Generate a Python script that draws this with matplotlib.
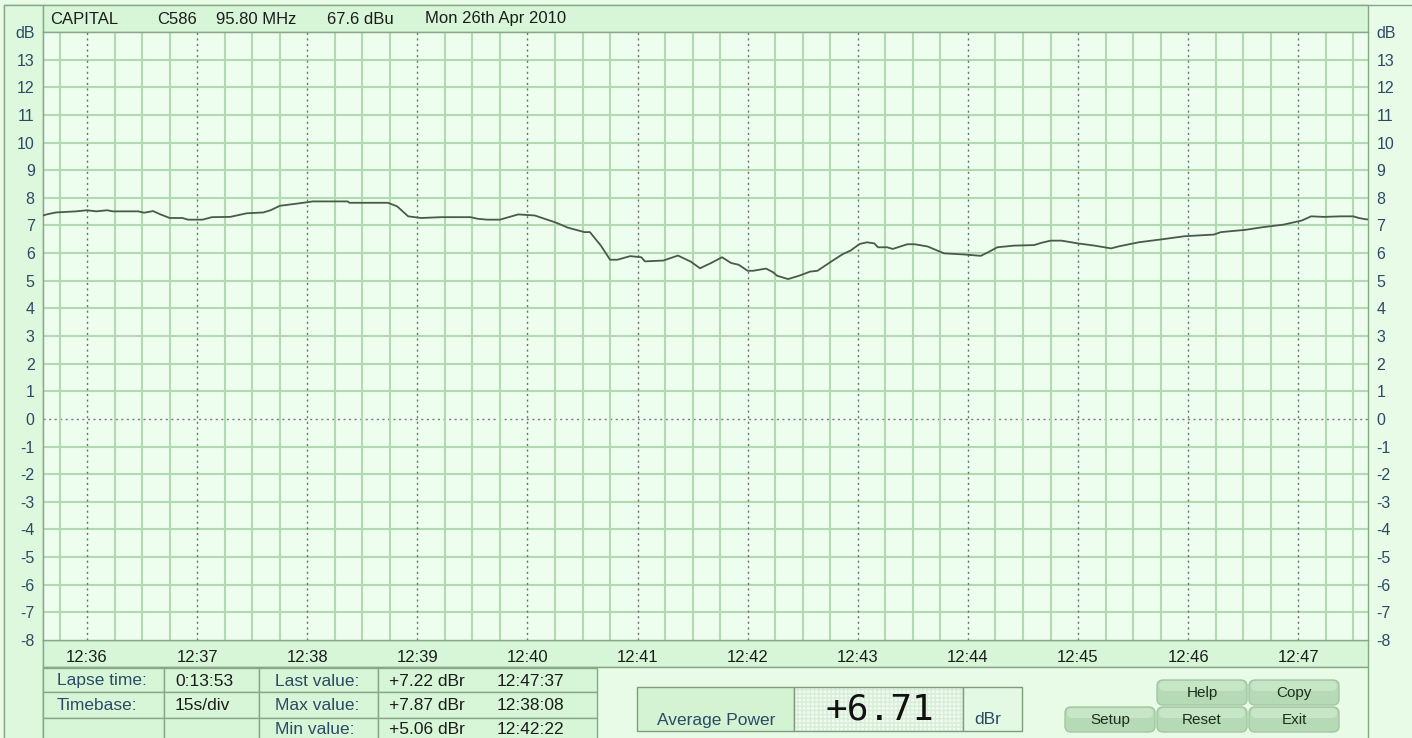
import matplotlib.pyplot as plt
from matplotlib.patches import Rectangle, FancyBboxPatch

plt.rcParams['font.family'] = ['Liberation Sans', 'DejaVu Sans']

# signal level trace (time, dBr)
times = ["12:35:36", "12:35:38", "12:35:43", "12:35:54", "12:36:00", "12:36:05", "12:36:11",
         "12:36:14", "12:36:28", "12:36:31", "12:36:36", "12:36:40", "12:36:45", "12:36:52",
         "12:36:55", "12:37:03", "12:37:08", "12:37:18", "12:37:27", "12:37:36", "12:37:40",
         "12:37:45", "12:37:52", "12:38:00", "12:38:03", "12:38:08", "12:38:22", "12:38:23",
         "12:38:44", "12:38:49", "12:38:55", "12:39:02", "12:39:13", "12:39:29", "12:39:33",
         "12:39:38", "12:39:45", "12:39:55", "12:40:04", "12:40:13", "12:40:16", "12:40:22",
         "12:40:31", "12:40:34", "12:40:40", "12:40:45", "12:40:49", "12:40:56", "12:41:02",
         "12:41:04", "12:41:14", "12:41:22", "12:41:29", "12:41:34", "12:41:40", "12:41:46",
         "12:41:51", "12:41:55", "12:42:00", "12:42:03", "12:42:10", "12:42:14", "12:42:16",
         "12:42:22", "12:42:28", "12:42:34", "12:42:38", "12:42:47", "12:42:52", "12:42:56",
         "12:43:01", "12:43:05", "12:43:09", "12:43:11", "12:43:16", "12:43:19", "12:43:27",
         "12:43:31", "12:43:38", "12:43:47", "12:43:58", "12:44:07", "12:44:11", "12:44:16",
         "12:44:25", "12:44:36", "12:44:40", "12:44:45", "12:44:51", "12:45:00", "12:45:09",
         "12:45:18", "12:45:22", "12:45:33", "12:45:47", "12:45:58", "12:46:14", "12:46:18",
         "12:46:31", "12:46:41", "12:46:52", "12:47:02", "12:47:07", "12:47:14", "12:47:23",
         "12:47:30", "12:47:33", "12:47:37", "12:47:38"]
level = [7.36, 7.40, 7.47, 7.51, 7.55, 7.51, 7.55,
         7.51, 7.51, 7.46, 7.52, 7.40, 7.27, 7.27,
         7.21, 7.21, 7.30, 7.31, 7.44, 7.47, 7.55,
         7.71, 7.77, 7.84, 7.87, 7.87, 7.87, 7.82,
         7.82, 7.69, 7.33, 7.27, 7.30, 7.30, 7.24,
         7.21, 7.21, 7.40, 7.36, 7.16, 7.09, 6.92,
         6.76, 6.76, 6.27, 5.76, 5.76, 5.89, 5.85,
         5.70, 5.73, 5.91, 5.69, 5.45, 5.64, 5.85,
         5.64, 5.58, 5.36, 5.36, 5.44, 5.30, 5.18,
         5.06, 5.18, 5.33, 5.36, 5.76, 5.97, 6.09,
         6.33, 6.39, 6.35, 6.21, 6.21, 6.15, 6.32,
         6.32, 6.24, 5.99, 5.95, 5.90, 6.03, 6.21,
         6.27, 6.29, 6.37, 6.45, 6.45, 6.35, 6.27,
         6.17, 6.24, 6.39, 6.51, 6.61, 6.67, 6.76,
         6.84, 6.94, 7.03, 7.18, 7.33, 7.31, 7.33,
         7.33, 7.27, 7.22, 7.22]

t_start, t_end = "12:35:36", "12:47:38"
minute_labels = ["12:36", "12:37", "12:38", "12:39", "12:40", "12:41",
                 "12:42", "12:43", "12:44", "12:45", "12:46", "12:47"]
db_ticks = list(range(-8, 15))

header = ["CAPITAL", "C586", "95.80 MHz", "67.6 dBu", "Mon 26th Apr 2010"]
info_names = ["Lapse time:", "Timebase:", ""]
info_values = ["0:13:53", "15s/div", ""]
stat_names = ["Last value:", "Max value:", "Min value:"]
stat_values = ["+7.22 dBr", "+7.87 dBr", "+5.06 dBr"]
stat_times = ["12:47:37", "12:38:08", "12:42:22"]
avg_power = "+6.71"
buttons = ["Help", "Copy", "Setup", "Reset", "Exit"]


def secs(t):
    p = [int(v) for v in t.split(':')]
    if len(p) == 2:
        p.append(0)
    return (p[0] - 12) * 3600 + p[1] * 60 + p[2]


W, H = 1412, 738
BORDER = '#86a886'
GRID = '#b3d9b3'
TXT = '#2c4a66'
DARK = '#1c1c1c'

fig = plt.figure(figsize=(W / 100, H / 100), dpi=100, facecolor='#e7fbe7')

# pixel-space canvas for the window furniture
bg = fig.add_axes([0, 0, 1, 1], zorder=0)
bg.set_xlim(0, W)
bg.set_ylim(H, 0)
bg.axis('off')


def box(x0, y0, x1, y1, fc, ec=BORDER, lw=1, **kw):
    bg.add_patch(Rectangle((x0, y0), x1 - x0, y1 - y0, facecolor=fc, edgecolor=ec, lw=lw, **kw))


box(4, 5, W + 5, H + 5, '#e7fbe7')
box(4, 5, 43, H + 5, '#ddf8dd')
box(43, 5, 1368, 32, '#d7f6d7')
box(43, 640, 1368, 667, '#d7f6d7')
box(43, 667, 1368, H + 5, '#e7fbe7')

for lab, x in zip(header, [50, 157, 216, 327, 425]):
    bg.text(x, 19, lab, fontsize=12, color=DARK, va='center', ha='left')

# stats table
rows = [(668, 692), (692, 718), (718, 745)]
for i, (y0, y1) in enumerate(rows):
    box(43, y0, 164, y1, '#d7f6d7')
    box(164, y0, 259, y1, '#d7f6d7')
    box(259, y0, 378, y1, '#d7f6d7')
    box(378, y0, 597, y1, '#d7f6d7')
    yc = (y0 + y1) / 2 + 1 if i < 2 else 729
    bg.text(57, yc, info_names[i], fontsize=12.5, color=TXT, va='center')
    bg.text(175, yc, info_values[i], fontsize=12.5, color=DARK, va='center')
    bg.text(275, yc, stat_names[i], fontsize=12.5, color=TXT, va='center')
    bg.text(389, yc, stat_values[i], fontsize=12.5, color=DARK, va='center')
    bg.text(497, yc, stat_times[i], fontsize=12.5, color=DARK, va='center')

# average power readout
box(637, 687, 794, 731, '#d3f3d3', ec='#7d9d7d')
box(794, 687, 963, 731, '#eefcee', ec='#d9ecd9', lw=0.5, hatch='++++')
box(794, 687, 963, 731, 'none', ec='#7d9d7d')
box(963, 687, 1022, 731, '#e3f9e3', ec='#7d9d7d')
bg.text(716, 720, "Average Power", fontsize=12.5, color=TXT, ha='center', va='center')
bg.text(988, 720, "dBr", fontsize=12.5, color=TXT, ha='center', va='center')
bg.text(880, 710, avg_power, fontsize=26, family='DejaVu Sans Mono', color='#111111',
        ha='center', va='center')

# buttons
btn_pos = [(1157, 680), (1249, 680), (1065, 707), (1157, 707), (1249, 707)]
for lab, (bx, by) in zip(buttons, btn_pos):
    bg.add_patch(FancyBboxPatch((bx, by), 90, 25, boxstyle="round,pad=0,rounding_size=6",
                                facecolor='#b5dab5', edgecolor='#a2c6a2', lw=1))
    bg.add_patch(FancyBboxPatch((bx + 2, by + 1), 86, 10, boxstyle="round,pad=0,rounding_size=5",
                                facecolor='#c6e6c6', edgecolor='none'))
    bg.text(bx + 45, by + 13, lab, fontsize=11, color='#1e2e1e', ha='center', va='center')

# main trace area
ax = fig.add_axes([43 / W, (H - 640) / H, 1325 / W, 608 / H], zorder=1)
ax.set_facecolor('#edfdee')
x = [secs(t) for t in times]
x0, x1 = secs(t_start), secs(t_end)

for v in range(-7, 14):
    if v == 0:
        ax.axhline(v, color='#7a7a7a', lw=1, ls=(0, (1.5, 2.5)), zorder=1)
    else:
        ax.axhline(v, color=GRID, lw=1.5, zorder=1)
for t in range(secs("12:35:45"), x1, 15):
    if t % 60 == 0:
        ax.axvline(t, color='#6f6f6f', lw=1, ls=(0, (1.5, 2.5)), zorder=1)
    else:
        ax.axvline(t, color=GRID, lw=1.5, zorder=1)

ax.plot(x, level, color='#4a5a4a', lw=1.3, zorder=3)

ax.set_xlim(x0, x1)
ax.set_ylim(-8, 14)
ax.set_xticks([secs(m) for m in minute_labels])
ax.set_xticklabels(minute_labels)
ax.set_yticks(db_ticks)
ax.set_yticklabels(["dB" if v == 14 else str(v) for v in db_ticks])
ax.tick_params(axis='x', length=0, pad=7, labelsize=12, labelcolor=DARK)
ax.tick_params(axis='y', length=0, pad=6, labelsize=11.5, labelcolor=TXT,
               labelleft=True, labelright=True)
for s in ax.spines.values():
    s.set_color(BORDER)
    s.set_linewidth(1)

fig.savefig('out.png', dpi=100, facecolor=fig.get_facecolor())
